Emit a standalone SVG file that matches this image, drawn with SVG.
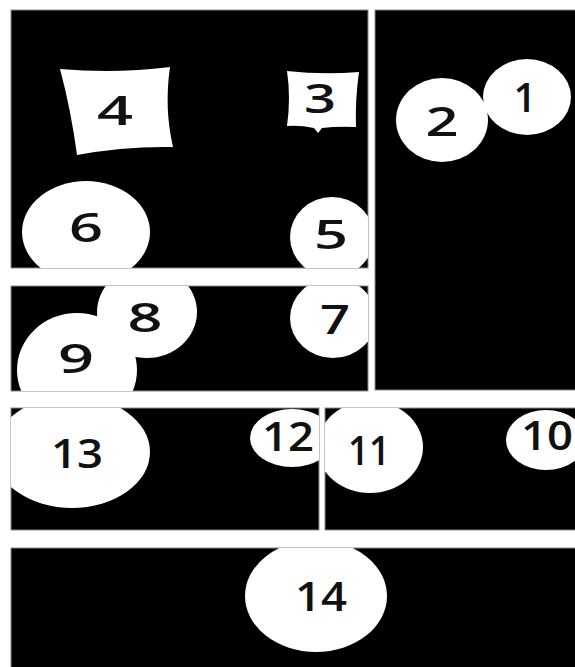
<svg xmlns="http://www.w3.org/2000/svg" width="575" height="667" viewBox="0 0 575 667">
<style>
.panel{fill:#000;stroke:#8a8a8a;stroke-width:1}
.blob{fill:#fff}
.lbl{font-family:"Open Sans","Liberation Sans",sans-serif;font-size:40px;font-weight:600;fill:#111;text-anchor:middle}
</style>
<defs>
<clipPath id="cA"><rect x="11" y="10" width="357" height="258"/></clipPath>
<clipPath id="cB"><rect x="375" y="10" width="200" height="380"/></clipPath>
<clipPath id="cC"><rect x="11" y="286" width="357" height="105"/></clipPath>
<clipPath id="cD"><rect x="11" y="408" width="308" height="122"/></clipPath>
<clipPath id="cE"><rect x="325" y="408" width="250" height="122"/></clipPath>
<clipPath id="cF"><rect x="11" y="548" width="564" height="119"/></clipPath>
</defs>
<rect width="575" height="667" fill="#fff"/>
<g id="panels">
<rect class="panel" x="11" y="10" width="357" height="258"/>
<rect class="panel" x="375" y="10" width="205" height="380"/>
<rect class="panel" x="11" y="286" width="357" height="105"/>
<rect class="panel" x="11" y="408" width="308" height="122"/>
<rect class="panel" x="325" y="408" width="255" height="122"/>
<rect class="panel" x="11" y="548" width="569" height="125"/>
</g>
<g id="connectors"/>
<g id="node1" clip-path="url(#cB)">
<ellipse class="blob" cx="527" cy="97" rx="44" ry="38"/>
<text class="lbl" x="525" y="112">1</text>
</g>
<g id="node2" clip-path="url(#cB)">
<ellipse class="blob" cx="442" cy="120" rx="46" ry="42"/>
<text class="lbl" x="442" y="136" textLength="33" lengthAdjust="spacingAndGlyphs">2</text>
</g>
<g id="node3" clip-path="url(#cA)">
<path class="blob" d="M287,71 Q322,75 359,72 Q355,100 356,127 Q338,126 322,128 L318,133 L314,128 Q300,125 287,126 Q291,98 287,71 Z"/>
<text class="lbl" x="320" y="113" textLength="32" lengthAdjust="spacingAndGlyphs">3</text>
</g>
<g id="node4" clip-path="url(#cA)">
<path class="blob" d="M60,69 Q115,74 170,67 Q164,108 173,147 Q125,146 77,155 Q71,110 60,69 Z"/>
<text class="lbl" x="115" y="125" textLength="36" lengthAdjust="spacingAndGlyphs">4</text>
</g>
<g id="node5" clip-path="url(#cA)">
<ellipse class="blob" cx="332" cy="237" rx="42" ry="40"/>
<text class="lbl" x="331" y="249" textLength="34" lengthAdjust="spacingAndGlyphs">5</text>
</g>
<g id="node6" clip-path="url(#cA)">
<ellipse class="blob" cx="86" cy="232" rx="64" ry="51"/>
<text class="lbl" x="86" y="242" textLength="34" lengthAdjust="spacingAndGlyphs">6</text>
</g>
<g id="node7" clip-path="url(#cC)">
<ellipse class="blob" cx="333" cy="318" rx="43" ry="40"/>
<text class="lbl" x="335" y="334" textLength="30" lengthAdjust="spacingAndGlyphs">7</text>
</g>
<g id="node8" clip-path="url(#cC)">
<ellipse class="blob" cx="147" cy="312" rx="50" ry="46"/>
<text class="lbl" x="145" y="332" textLength="35" lengthAdjust="spacingAndGlyphs">8</text>
</g>
<g id="node9" clip-path="url(#cC)">
<ellipse class="blob" cx="77" cy="370" rx="60" ry="57"/>
<text class="lbl" x="76" y="373" textLength="36" lengthAdjust="spacingAndGlyphs">9</text>
</g>
<g id="node10" clip-path="url(#cE)">
<ellipse class="blob" cx="546" cy="440" rx="40" ry="30"/>
<text class="lbl" x="547" y="450" textLength="52" lengthAdjust="spacingAndGlyphs">10</text>
</g>
<g id="node11" clip-path="url(#cE)">
<ellipse class="blob" cx="370" cy="447" rx="53" ry="46"/>
<text class="lbl" x="369" y="465" textLength="42" lengthAdjust="spacingAndGlyphs">11</text>
</g>
<g id="node12" clip-path="url(#cD)">
<ellipse class="blob" cx="292" cy="438" rx="42" ry="29"/>
<text class="lbl" x="288" y="451" textLength="52" lengthAdjust="spacingAndGlyphs">12</text>
</g>
<g id="node13" clip-path="url(#cD)">
<ellipse class="blob" cx="72" cy="452" rx="78" ry="56"/>
<text class="lbl" x="77" y="468" textLength="52" lengthAdjust="spacingAndGlyphs">13</text>
</g>
<g id="node14" clip-path="url(#cF)">
<ellipse class="blob" cx="316" cy="596" rx="71" ry="56"/>
<text class="lbl" x="321" y="611" textLength="52" lengthAdjust="spacingAndGlyphs">14</text>
</g>
</svg>
